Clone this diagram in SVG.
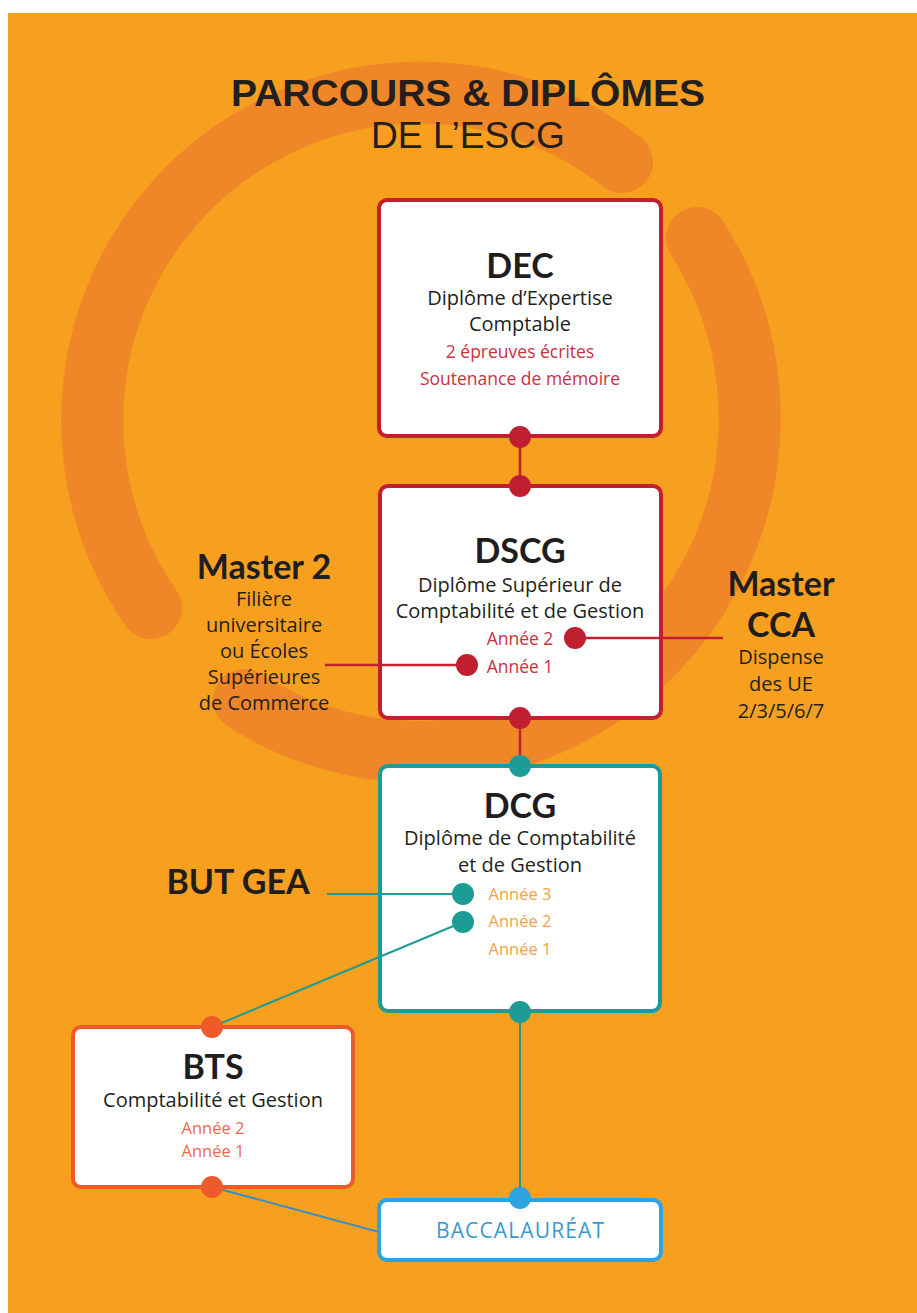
<svg xmlns="http://www.w3.org/2000/svg" width="917" height="1313" viewBox="0 0 917 1313">
  <style>
    .t { font-family: "Open Sans", "Liberation Sans", sans-serif; text-anchor: middle; }
    .h { font-family: Lato, "Liberation Sans", sans-serif; font-weight: 700; font-size: 34px; fill: #1f1d1e; }
    .s { font-size: 20px; fill: #231f20; }
    .red { font-size: 17.5px; fill: #c8323f; }
    .amb { font-size: 16.5px; fill: #f2a24a; }
    .sal { font-size: 16.5px; fill: #ee6a49; }
    .box { fill: #ffffff; stroke-width: 4; }
    .ring { fill: none; stroke: #ef8627; stroke-width: 62; stroke-linecap: round; }
    .ttl { font-family: "Liberation Sans", Arial, sans-serif; text-anchor: middle; fill: #231f20; }
  </style>
  <rect x="0" y="0" width="917" height="1313" fill="#ffffff"/>
  <rect x="8" y="13" width="909" height="1300" fill="#f79f1e"/>
  <g id="ring">
    <path class="ring" d="M151,608 A328,328 0 0 1 622,162"/>
    <path class="ring" d="M697,238 A334,334 0 0 1 420,752 A330,330 0 0 1 244,700"/>
  </g>
  <g id="title">
    <text class="ttl" x="468" y="106" font-size="36" font-weight="700" textLength="474" lengthAdjust="spacingAndGlyphs">PARCOURS &amp; DIPLÔMES</text>
    <text class="ttl" x="468" y="148" font-size="37" textLength="194" lengthAdjust="spacingAndGlyphs">DE L’ESCG</text>
  </g>

  <g id="node-dec">
    <rect class="box" x="379" y="200" width="282" height="236" rx="8" stroke="#c2202f"/>
    <text class="t h" x="520" y="278">DEC</text>
    <text class="t s" x="520" y="305">Diplôme d’Expertise</text>
    <text class="t s" x="520" y="331">Comptable</text>
    <text class="t red" x="520" y="358">2 épreuves écrites</text>
    <text class="t red" x="520" y="385">Soutenance de mémoire</text>
  </g>
  <g id="node-dscg">
    <rect class="box" x="380" y="486" width="281" height="232" rx="8" stroke="#c2202f"/>
    <text class="t h" x="520" y="563">DSCG</text>
    <text class="t s" x="520" y="592">Diplôme Supérieur de</text>
    <text class="t s" x="520" y="618">Comptabilité et de Gestion</text>
    <text class="t red" x="520" y="645">Année 2</text>
    <text class="t red" x="520" y="673">Année 1</text>
  </g>
  <g id="node-master2">
    <text class="t h" x="264" y="579">Master 2</text>
    <text class="t s" x="264" y="606">Filière</text>
    <text class="t s" x="264" y="632">universitaire</text>
    <text class="t s" x="264" y="658">ou Écoles</text>
    <text class="t s" x="264" y="684">Supérieures</text>
    <text class="t s" x="264" y="710">de Commerce</text>
  </g>
  <g id="node-mastercca">
    <text class="t h" x="781" y="596">Master</text>
    <text class="t h" x="781" y="637">CCA</text>
    <text class="t s" x="781" y="664">Dispense</text>
    <text class="t s" x="781" y="691">des UE</text>
    <text class="t s" x="781" y="718">2/3/5/6/7</text>
  </g>
  <g id="node-dcg">
    <rect class="box" x="380" y="766" width="280" height="245" rx="8" stroke="#1b9c94"/>
    <text class="t h" x="520" y="818">DCG</text>
    <text class="t s" x="520" y="845">Diplôme de Comptabilité</text>
    <text class="t s" x="520" y="872">et de Gestion</text>
    <text class="t amb" x="520" y="900">Année 3</text>
    <text class="t amb" x="520" y="927">Année 2</text>
    <text class="t amb" x="520" y="955">Année 1</text>
  </g>
  <g id="node-butgea">
    <text class="t h" x="238" y="894">BUT GEA</text>
  </g>
  <g id="node-bts">
    <rect class="box" x="73" y="1027" width="280" height="160" rx="8" stroke="#ee5a2a"/>
    <text class="t h" x="213" y="1079">BTS</text>
    <text class="t s" x="213" y="1107">Comptabilité et Gestion</text>
    <text class="t sal" x="213" y="1134">Année 2</text>
    <text class="t sal" x="213" y="1157">Année 1</text>
  </g>
  <g id="node-bac">
    <rect class="box" x="379" y="1200" width="282" height="60" rx="8" stroke="#2ea3df"/>
    <text class="t" x="520" y="1238" font-size="21" fill="#3a98cf" textLength="168" lengthAdjust="spacing">BACCALAURÉAT</text>
  </g>

  <g id="connectors">
    <g stroke="#c2202f" stroke-width="2.5" fill="none">
      <line x1="520" y1="437" x2="520" y2="486"/>
      <line x1="520" y1="718" x2="520" y2="766"/>
      <line x1="575" y1="638" x2="723" y2="638"/>
      <line x1="325" y1="665" x2="467" y2="665"/>
    </g>
    <g stroke="#1b9c94" stroke-width="2" fill="none">
      <line x1="327" y1="894" x2="463" y2="894"/>
      <line x1="463" y1="922" x2="212" y2="1027"/>
      <line x1="520" y1="1012" x2="520" y2="1198"/>
    </g>
    <line x1="212" y1="1187" x2="379" y2="1232" stroke="#3a8fc0" stroke-width="2"/>
    <g fill="#c01f30">
      <circle cx="520" cy="437" r="11"/>
      <circle cx="520" cy="486" r="11"/>
      <circle cx="520" cy="718" r="11"/>
      <circle cx="575" cy="638" r="11"/>
      <circle cx="467" cy="665" r="11"/>
    </g>
    <g fill="#1b9c94">
      <circle cx="520" cy="766" r="11"/>
      <circle cx="463" cy="894" r="11"/>
      <circle cx="463" cy="922" r="11"/>
      <circle cx="520" cy="1012" r="11"/>
    </g>
    <g fill="#ee5a2a">
      <circle cx="212" cy="1027" r="11"/>
      <circle cx="212" cy="1187" r="11"/>
    </g>
    <circle cx="520" cy="1198" r="11" fill="#2ea3df"/>
  </g>
</svg>
